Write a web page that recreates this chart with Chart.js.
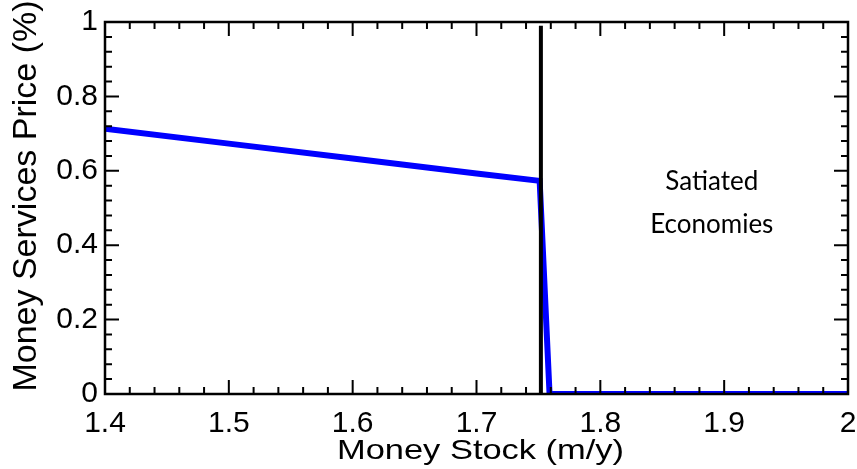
<!DOCTYPE html>
<html>
<head>
<meta charset="utf-8">
<script src="https://cdn.jsdelivr.net/npm/chart.js@4"></script>
<style>
  html, body { margin: 0; padding: 0; background: #fff; }
  #wrap { width: 857px; height: 469px; }
</style>
</head>
<body>
<div id="wrap"><canvas id="priceChart"></canvas></div>
<script>
// money stock (m/y) and money services price (%)
const moneyStock = [1.4, 1.5, 1.6, 1.7, 1.751, 1.759, 1.8, 1.9, 2.0];
const servicesPrice = [0.713, 0.673, 0.633, 0.593, 0.573, 0, 0, 0, 0];

// satiation threshold
const satiationX = [1.752, 1.752];
const satiationY = [0, 0.99];

const xRange = [1.4, 2.0];
const yRange = [0, 1];
const xTitle = 'Money Stock (m/y)';
const yTitle = 'Money Services Price (%)';
const noteLines = ['Satiated', 'Economies'];
const noteX = 1.89;
const noteY = [0.57, 0.455];

const FONT = '"Liberation Sans", Arial, sans-serif';
const fmt = v => String(+v.toFixed(2));

// box, inward ticks on all four sides, axis titles and the note
const frameTicks = {
  id: 'frameTicks',
  afterDraw(chart) {
    const { ctx, chartArea: a, scales: { x, y } } = chart;
    ctx.save();
    ctx.strokeStyle = '#000';
    ctx.lineWidth = 2;
    const near = (v, step) => Math.abs(v / step - Math.round(v / step)) < 1e-6;
    for (let i = 0; i <= 30; i++) {
      const v = xRange[0] + i * 0.02;
      const px = x.getPixelForValue(v);
      const len = near(v, 0.1) ? 14 : 7;
      ctx.beginPath();
      ctx.moveTo(px, a.bottom); ctx.lineTo(px, a.bottom - len);
      ctx.moveTo(px, a.top); ctx.lineTo(px, a.top + len);
      ctx.stroke();
    }
    for (let i = 0; i <= 25; i++) {
      const v = yRange[0] + i * 0.04;
      const py = y.getPixelForValue(v);
      const len = near(v, 0.2) ? 14 : 7;
      ctx.beginPath();
      ctx.moveTo(a.left, py); ctx.lineTo(a.left + len, py);
      ctx.moveTo(a.right, py); ctx.lineTo(a.right - len, py);
      ctx.stroke();
    }
    ctx.lineWidth = 2.5;
    ctx.strokeRect(a.left, a.top, a.right - a.left, a.bottom - a.top);

    ctx.fillStyle = '#000';
    ctx.textAlign = 'center';

    // x title (a bit wider than normal in the original)
    ctx.save();
    ctx.font = '28px ' + FONT;
    ctx.textBaseline = 'alphabetic';
    ctx.translate((a.left + a.right) / 2 + 4, 459);
    ctx.scale(1.23, 1);
    ctx.fillText(xTitle, 0, 0);
    ctx.restore();

    // y title
    ctx.save();
    ctx.font = '34px ' + FONT;
    ctx.textBaseline = 'middle';
    ctx.translate(27, (a.top + a.bottom) / 2 - 12);
    ctx.rotate(-Math.PI / 2);
    ctx.fillText(yTitle, 0, 0);
    ctx.restore();

    ctx.font = '26px Lato, "Open Sans", sans-serif';
    ctx.textBaseline = 'middle';
    noteLines.forEach((t, i) => {
      ctx.fillText(t, x.getPixelForValue(noteX), y.getPixelForValue(noteY[i]));
    });
    ctx.restore();
  }
};

new Chart(document.getElementById('priceChart'), {
  type: 'line',
  data: {
    datasets: [
      {
        data: satiationX.map((v, i) => ({ x: v, y: satiationY[i] })),
        borderColor: '#000',
        borderWidth: 4,
        pointRadius: 0,
        fill: false
      },
      {
        data: moneyStock.map((v, i) => ({ x: v, y: servicesPrice[i] })),
        borderColor: '#0000ff',
        borderWidth: 6,
        pointRadius: 0,
        tension: 0,
        fill: false
      }
    ]
  },
  options: {
    responsive: true,
    maintainAspectRatio: false,
    animation: false,
    layout: { padding: { top: 22, right: 9, left: 0, bottom: 0 } },
    plugins: { legend: { display: false }, tooltip: { enabled: false } },
    scales: {
      x: {
        type: 'linear',
        min: xRange[0],
        max: xRange[1],
        grid: { display: false, drawTicks: false },
        border: { display: false },
        ticks: { stepSize: 0.1, color: '#000', padding: 12, maxRotation: 0, callback: fmt, font: { family: FONT, size: 30 } },
        afterFit(scale) {
          scale.height = 75;
          scale.paddingLeft = 0;
          scale.paddingRight = 0;
        }
      },
      y: {
        type: 'linear',
        min: yRange[0],
        max: yRange[1],
        grid: { display: false, drawTicks: false },
        border: { display: false },
        ticks: { stepSize: 0.2, color: '#000', padding: 7, callback: fmt, font: { family: FONT, size: 30 } },
        afterFit(scale) {
          scale.width = 105;
          scale.paddingTop = 0;
          scale.paddingBottom = 0;
        }
      }
    }
  },
  plugins: [frameTicks]
});
</script>
</body>
</html>
